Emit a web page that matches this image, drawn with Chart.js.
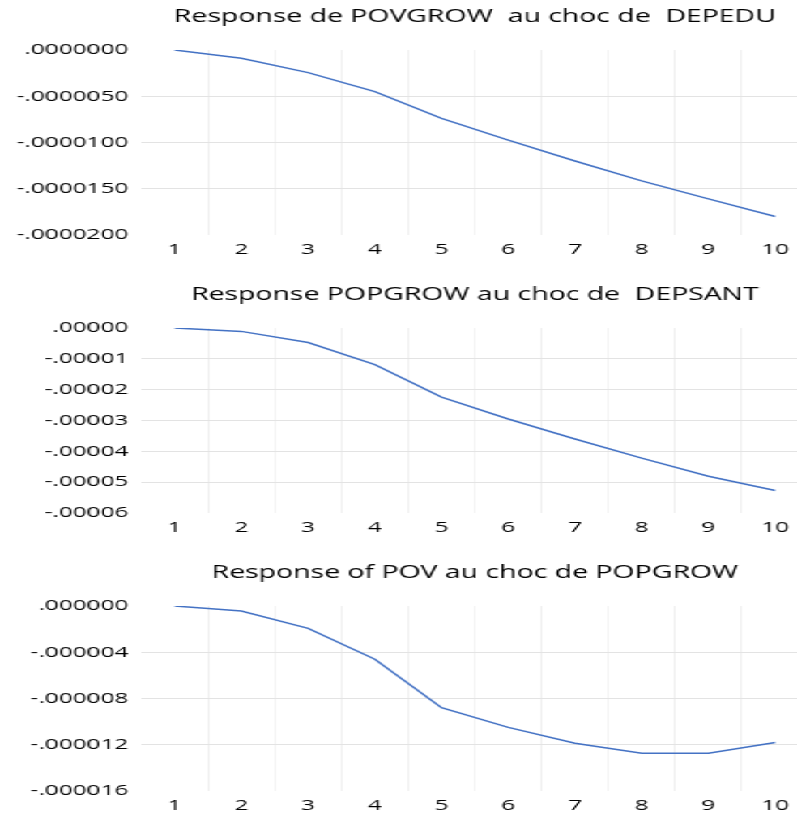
<!DOCTYPE html>
<html><head><meta charset="utf-8">
<script src="https://cdn.jsdelivr.net/npm/chart.js@4.4.1/dist/chart.umd.min.js"></script>
<style>
html,body{margin:0;padding:0;overflow:hidden;background:#fff;width:797px;height:813px;position:relative;}
#stage{position:absolute;left:0;top:0;transform-origin:0 0;}
.box{position:absolute;left:0;height:278px;}
</style></head><body>
<div id="stage">
 <div class="box" id="b1" style="top:-16px"><canvas id="c1"></canvas></div>
 <div class="box" id="b2" style="top:262px"><canvas id="c2"></canvas></div>
 <div class="box" id="b3" style="top:540px"><canvas id="c3"></canvas></div>
</div>
<script>
// ---- data ----
const periods = [1, 2, 3, 4, 5, 6, 7, 8, 9, 10];
const xTickValues = [1, 1.5, 2, 2.5, 3, 3.5, 4, 4.5, 5, 5.5, 6, 6.5, 7, 7.5, 8, 8.5, 9, 9.5, 10];

const title1 = 'Response de POVGROW  au choc de  DEPEDU';
const povgrowDepedu = [0, -0.0000009, -0.00000245, -0.0000045, -0.0000074, -0.00000975, -0.000012, -0.00001415, -0.0000161, -0.000018];
const yTicks1 = [-0.00002, -0.000015, -0.00001, -0.000005, 0];
const yLabels1 = ['-.0000200', '-.0000150', '-.0000100', '-.0000050', '.0000000'];

const title2 = 'Response POPGROW au choc de  DEPSANT';
const popgrowDepsant = [0, -0.0000011, -0.0000047, -0.0000119, -0.0000224, -0.0000295, -0.000036, -0.0000422, -0.0000481, -0.0000527];
const yTicks2 = [-0.00006, -0.00005, -0.00004, -0.00003, -0.00002, -0.00001, 0];
const yLabels2 = ['-.00006', '-.00005', '-.00004', '-.00003', '-.00002', '-.00001', '.00000'];

const title3 = 'Response of POV au choc de POPGROW';
const povPopgrow = [0, -0.00000043, -0.00000194, -0.0000046, -0.0000088, -0.0000105, -0.00001187, -0.00001273, -0.00001273, -0.0000118];
const yTicks3 = [-0.000016, -0.000012, -0.000008, -0.000004, 0];
const yLabels3 = ['-.000016', '-.000012', '-.000008', '-.000004', '.000000'];

// ---- layout / style ----
const S = 1.62;              // horizontal stretch of the original picture
const FULL_W = 808;          // right edge of plot area (real px)
const PLOT_LEFT = 141;       // left edge of plot area (real px)
const FONT = "'Open Sans', 'DejaVu Sans', sans-serif";
const TEXT = '#000000';
const GRID = '#e3e3e3';
const VGRID = '#e6e6e6';
const LINE = '#4472C4';
const CLEAR = 'rgba(0,0,0,0)';

const stage = document.getElementById('stage');
stage.style.transform = 'scaleX(' + S + ')';
stage.style.width = (FULL_W / S) + 'px';
['b1', 'b2', 'b3'].forEach(id => document.getElementById(id).style.width = (FULL_W / S) + 'px');

function makeChart(id, title, values, yTicks, yLabels) {
  new Chart(document.getElementById(id), {
    type: 'line',
    data: {
      datasets: [{
        data: periods.map((p, i) => ({ x: p, y: values[i] })),
        borderColor: LINE, borderWidth: 1.5, pointRadius: 0, tension: 0, fill: false
      }]
    },
    options: {
      responsive: true, maintainAspectRatio: false, animation: false,
      layout: { padding: 0 },
      plugins: {
        legend: { display: false },
        tooltip: { enabled: false },
        title: {
          display: true, text: title, fullSize: false, color: TEXT,
          font: { family: FONT, size: 17.5, weight: 'normal' },
          padding: { top: 22.5, bottom: 22.5 }
        }
      },
      scales: {
        x: {
          type: 'linear', min: 0.5, max: 10.5,
          afterBuildTicks(s) { s.ticks = xTickValues.map(v => ({ value: v })); },
          afterFit(s) { s.height = 27; },
          ticks: {
            autoSkip: false, maxRotation: 0, minRotation: 0, padding: 6, color: TEXT,
            font: { family: FONT, size: 15 },
            callback: v => Number.isInteger(v) ? String(v) : ''
          },
          grid: {
            drawTicks: false, lineWidth: 1 / S,
            color: c => (c.tick && Number.isInteger(c.tick.value)) ? CLEAR : VGRID
          },
          border: { display: false }
        },
        y: {
          min: yTicks[0], max: yTicks[yTicks.length - 1],
          afterBuildTicks(s) { s.ticks = yTicks.map(v => ({ value: v })); },
          afterFit(s) { s.width = PLOT_LEFT / S; },
          ticks: {
            padding: 8, color: TEXT, font: { family: FONT, size: 15 },
            callback: (v, i) => yLabels[i]
          },
          grid: {
            drawTicks: false, lineWidth: 1,
            color: c => (c.index === 0 || c.index === yTicks.length - 1) ? CLEAR : GRID
          },
          border: { display: false }
        }
      }
    }
  });
}

makeChart('c1', title1, povgrowDepedu, yTicks1, yLabels1);
makeChart('c2', title2, popgrowDepsant, yTicks2, yLabels2);
makeChart('c3', title3, povPopgrow, yTicks3, yLabels3);
</script>
</body></html>
